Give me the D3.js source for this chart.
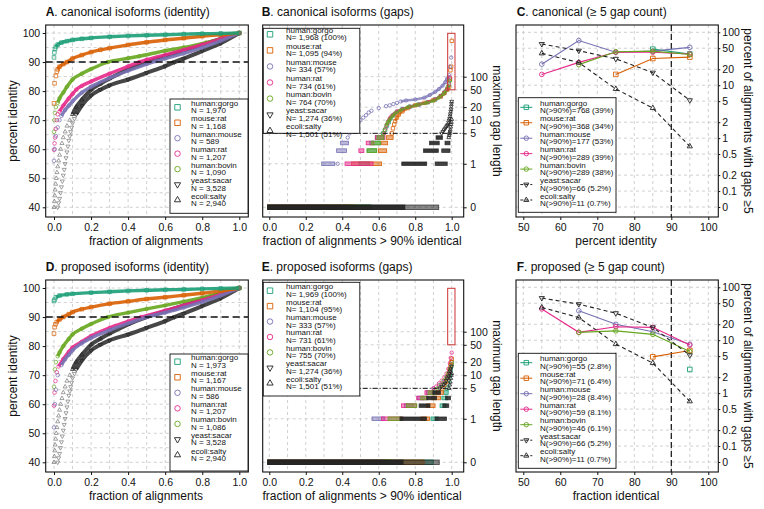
<!DOCTYPE html>
<html><head><meta charset="utf-8">
<script src="https://cdn.jsdelivr.net/npm/d3@7"></script>
<style>
body{margin:0;background:#fff}
svg{display:block}
text{font-family:"Liberation Sans",Arial,Helvetica,sans-serif;fill:#111}
</style>
</head><body><svg id="c" width="764" height="509"></svg>
<script>
// ---------------- data ----------------
const species = ["human:gorgo","mouse:rat","human:mouse","human:rat","human:bovin","yeast:sacar","ecoli:salty"];
const colors  = ["#1b9e77","#d95f02","#7570b3","#e7298a","#66a61e","#222222","#222222"];
const shapes  = ["square","square","circle","circle","circle","tridown","triup"];

const titles = ["canonical isoforms (identity)","canonical isoforms (gaps)","canonical (\u2265 5 gap count)",
                "proposed isoforms (identity)","proposed isoforms (gaps)","proposed (\u2265 5 gap count)"];
const letters = ["A","B","C","D","E","F"];

const idTicksX = [0,0.2,0.4,0.6,0.8,1.0];
const idTicksY = [40,50,60,70,80,90,100];
const gapTicks = [0,1,5,10,20,50,100];
const cntTicksX = [50,60,70,80,90,100];
const cntTicksY = [0,0.1,0.2,0.5,1,2,5,10,20,50,100];

const legendA = ["N = 1,970","N = 1,168","N = 589","N = 1,207","N = 1,090","N = 3,528","N = 2,940"];
const legendD = ["N = 1,973","N = 1,167","N = 586","N = 1,207","N = 1,086","N = 3,528","N = 2,940"];
const legendB = ["N= 1,968 (100%)","N= 1,095 (94%)","N= 334 (57%)","N= 734 (61%)","N= 764 (70%)","N= 1,274 (36%)","N= 1,501 (51%)"];
const legendE = ["N= 1,969 (100%)","N= 1,104 (95%)","N= 333 (57%)","N= 731 (61%)","N= 755 (70%)","N= 1,274 (36%)","N= 1,501 (51%)"];
const legendC = ["N(>90%)=768 (39%)","N(>90%)=368 (34%)","N(>90%)=177 (53%)","N(>90%)=289 (39%)","N(>90%)=289 (38%)","N(>90%)=66 (5.2%)","N(>90%)=11 (0.7%)"];
const legendF = ["N(>90%)=55 (2.8%)","N(>90%)=71 (6.4%)","N(>90%)=28 (8.4%)","N(>90%)=59 (8.1%)","N(>90%)=46 (6.1%)","N(>90%)=66 (5.2%)","N(>90%)=11 (0.7%)"];

// identity panels: [fraction of alignments, percent identity]
const idCanonSparse = [
  [[0.0,91.6],[0.002,93.3],[0.005,94.5]],
  [[0.0,75.8],[0.003,82.7],[0.01,85.2],[0.015,86.7]],
  [[0.0,56],[0.004,60],[0.01,64.5],[0.02,67.5],[0.03,70]],
  [[0.0,59.8],[0.003,62],[0.006,64],[0.01,67],[0.015,70],[0.02,72]],
  [[0.0,66],[0.002,70],[0.005,72.5],[0.01,74.5]],
  [[0.02,40],[0.025,41.5],[0.03,43],[0.035,45],[0.04,47],[0.045,49],[0.05,51],[0.055,53],[0.06,55],[0.065,57],[0.07,59],[0.075,61],[0.08,63],[0.085,64.5],[0.09,66],[0.095,67.5],[0.1,69],[0.11,70.5]],
  [[0.0,40],[0.002,42],[0.004,44],[0.006,46],[0.009,48],[0.012,50],[0.016,52],[0.02,54],[0.025,56],[0.03,58],[0.036,60],[0.043,62],[0.05,64],[0.06,66],[0.07,68],[0.085,70]]
];
const idCanonDense = [
  [[0.01,95.2],[0.02,96],[0.04,96.7],[0.07,97.2],[0.1,97.6],[0.15,98],[0.2,98.3],[0.3,98.7],[0.4,99],[0.5,99.2],[0.6,99.4],[0.7,99.6],[0.8,99.75],[0.9,99.85],[1.0,100]],
  [[0.02,87.5],[0.03,88.4],[0.05,89.3],[0.07,90],[0.1,91.2],[0.15,92.4],[0.2,93.4],[0.25,94.2],[0.3,94.8],[0.4,95.9],[0.5,96.8],[0.6,97.6],[0.7,98.2],[0.8,98.9],[0.9,99.4],[1.0,100]],
  [[0.04,71.5],[0.06,73.5],[0.08,75],[0.1,76.5],[0.15,79.5],[0.2,81.5],[0.3,84.5],[0.4,87],[0.5,89.3],[0.55,90.3],[0.6,91.2],[0.7,93],[0.8,95],[0.9,97.3],[1.0,100]],
  [[0.03,73],[0.05,75],[0.08,77.5],[0.1,79],[0.12,80.5],[0.15,81.8],[0.2,83.3],[0.3,86],[0.4,88.5],[0.46,90],[0.5,90.8],[0.6,92.5],[0.7,94.2],[0.8,96],[0.9,98],[1.0,100]],
  [[0.02,76],[0.03,77.5],[0.05,79.5],[0.07,81.5],[0.1,84],[0.15,86],[0.2,87.6],[0.29,90],[0.4,91.3],[0.46,92],[0.6,93.9],[0.7,95],[0.82,96.7],[0.9,98],[1.0,100]],
  [[0.12,72],[0.15,75],[0.2,78.5],[0.25,80.5],[0.3,82],[0.4,84],[0.5,86.3],[0.6,88.6],[0.65,90],[0.7,91.2],[0.8,93.8],[0.9,96.5],[1.0,100]],
  [[0.1,72],[0.12,74.5],[0.15,77],[0.2,80.5],[0.25,82.5],[0.3,84.3],[0.4,87.5],[0.5,90],[0.6,92],[0.7,94],[0.8,96],[0.9,98],[1.0,100]]
];
const idPropSparse = [
  [[0.0,95.5],[0.003,96]],
  [[0.0,84.3],[0.003,86.5],[0.008,87.5]],
  [[0.0,52],[0.005,60],[0.01,65],[0.02,70]],
  [[0.0,59.5],[0.003,64],[0.008,68],[0.015,71]],
  [[0.0,66],[0.005,72],[0.01,74.5]],
  [[0.02,40],[0.025,41.5],[0.03,43],[0.035,45],[0.04,47],[0.045,49],[0.05,51],[0.055,53],[0.06,55],[0.065,57],[0.07,59],[0.075,61],[0.08,63],[0.085,64.5],[0.09,66],[0.095,67.5],[0.1,69],[0.11,70.5]],
  [[0.0,40],[0.002,42],[0.004,44],[0.006,46],[0.009,48],[0.012,50],[0.016,52],[0.02,54],[0.025,56],[0.03,58],[0.036,60],[0.043,62],[0.05,64],[0.06,66],[0.07,68],[0.085,70]]
];
const idPropDense = [
  [[0.01,96.8],[0.03,97.4],[0.07,97.8],[0.1,98],[0.2,98.4],[0.3,98.7],[0.4,99],[0.5,99.2],[0.6,99.4],[0.7,99.5],[0.8,99.7],[0.9,99.85],[1.0,100]],
  [[0.015,88.3],[0.03,89.2],[0.05,90],[0.08,91],[0.1,91.7],[0.15,92.7],[0.2,93.4],[0.3,94.6],[0.4,95.4],[0.5,96.2],[0.6,96.8],[0.7,97.5],[0.8,98.2],[0.9,99],[1.0,100]],
  [[0.04,73.5],[0.06,75.5],[0.08,77],[0.1,78.5],[0.15,81],[0.2,82.8],[0.3,85.5],[0.4,87.8],[0.5,90],[0.6,91.5],[0.7,93.3],[0.8,95.2],[0.9,97.4],[1.0,100]],
  [[0.025,73],[0.05,75.5],[0.08,78],[0.1,79.5],[0.15,81.5],[0.2,83.5],[0.3,86.3],[0.4,88.5],[0.47,90],[0.6,92.2],[0.7,94],[0.8,95.8],[0.9,97.8],[1.0,100]],
  [[0.02,76.5],[0.03,77.8],[0.05,80],[0.08,82.5],[0.1,84],[0.15,86],[0.2,87.6],[0.29,90],[0.4,91.5],[0.5,92.8],[0.6,94],[0.7,95.3],[0.8,96.7],[0.9,98.2],[1.0,100]],
  [[0.12,72],[0.15,75],[0.2,78.5],[0.25,80.5],[0.3,82],[0.4,84],[0.5,86.3],[0.6,88.6],[0.65,90],[0.7,91.2],[0.8,93.8],[0.9,96.5],[1.0,100]],
  [[0.1,72],[0.12,74.5],[0.15,77],[0.2,80.5],[0.25,82.5],[0.3,84.3],[0.4,87.5],[0.5,90],[0.6,92],[0.7,94],[0.8,96],[0.9,98],[1.0,100]]
];

// gap panels: runs = [gap length, from fraction, to fraction]; pts/band = [fraction, gap length]
const gapCanonRuns = [
  [[0,0,0.55],[1,0.5,0.54],[2,0.545,0.58],[3,0.56,0.6],[4,0.59,0.62]],
  [[0,0,0.46],[1,0.46,0.607],[2,0.607,0.635],[3,0.625,0.64],[4,0.65,0.67]],
  [[0,0,0.296],[1,0.296,0.35],[2,0.378,0.415],[3,0.4,0.425]],
  [[0,0,0.424],[1,0.424,0.56],[2,0.5,0.51],[3,0.54,0.565],[4,0.59,0.625]],
  [[0,0,0.54],[2,0.545,0.58],[3,0.57,0.6],[4,0.6,0.62]],
  [[0,0,0.735],[1,0.735,0.854],[2,0.854,0.918],[3,0.887,0.923],[4,0.923,0.941]],
  [[0,0,0.92],[1,0.918,0.967],[2,0.954,0.982],[3,0.972,0.982]]
];
const gapCanonPts = [
  [[0.625,5],[0.635,6],[0.645,7.5],[0.99,85]],
  [[0.672,5],[0.678,6.5],[0.685,8],[0.99,90],[0.993,140],[0.997,170],[1.0,665]],
  [[0.375,1],[0.43,4],[0.44,5],[0.452,6],[0.47,7.5],[0.485,8.5],[0.5,10],[0.515,11.5],[0.53,13],[0.545,15],[0.56,16.5],[0.6,19],[0.64,21],[0.66,22],[0.68,23.5],[0.7,25],[0.99,170],[0.997,275]],
  [[0.63,5],[0.638,6.5],[0.645,8],[0.985,70],[0.992,95]],
  [[0.625,5],[0.632,6],[0.98,60],[0.99,80]],
  [[0.945,5],[0.952,5.5],[0.958,6],[0.964,6.5],[0.97,7],[0.975,7.5],[0.979,8],[0.983,9],[0.986,10],[0.989,11],[0.991,12.5],[0.993,14],[0.995,16],[0.997,18],[0.998,21],[0.999,24],[1.0,27]],
  [[0.984,4],[0.986,4.5],[0.988,5],[0.99,5.5],[0.992,6],[0.994,7],[0.996,8],[0.998,9],[1.0,10.5]]
];
const gapCanonBand = [
  [[0.655,9],[0.665,11],[0.68,13],[0.7,15.5],[0.73,18],[0.77,20.5],[0.82,23],[0.87,26],[0.91,30],[0.94,36],[0.96,43],[0.975,52],[0.985,65]],
  [[0.69,9.5],[0.7,11.5],[0.71,13.5],[0.73,16],[0.76,19],[0.8,22],[0.85,25],[0.9,29],[0.94,35],[0.96,42],[0.975,50],[0.985,58]],
  [[0.72,27],[0.75,28.5],[0.8,30],[0.85,33],[0.88,38],[0.91,45],[0.93,52],[0.95,62],[0.965,75],[0.975,90],[0.985,110]],
  [[0.652,9.5],[0.66,11],[0.67,12.5],[0.685,14],[0.7,16],[0.73,18],[0.77,20.5],[0.82,23],[0.87,26],[0.91,30],[0.94,36],[0.96,43],[0.975,52]],
  [[0.64,7.5],[0.65,9],[0.66,10.5],[0.675,12.5],[0.69,14.5],[0.72,17],[0.76,20],[0.81,22.5],[0.86,25],[0.9,28],[0.93,33],[0.955,40],[0.97,48]],
  [],[]
];
const gapPropRuns = [
  [[0,0,0.89],[1,0.895,0.917],[2,0.945,0.96],[3,0.955,0.967],[4,0.965,0.972]],
  [[0,0,0.84],[1,0.84,0.87],[2,0.87,0.9],[3,0.9,0.93],[4,0.925,0.945]],
  [[0,0,0.572],[1,0.572,0.624],[2,0.75,0.78],[3,0.82,0.84],[4,0.87,0.88]],
  [[0,0,0.624],[1,0.624,0.725],[2,0.734,0.798],[3,0.817,0.853],[4,0.862,0.89]],
  [[0,0,0.66],[1,0.66,0.72],[2,0.76,0.8],[3,0.84,0.86],[4,0.88,0.9]],
  [[0,0,0.725],[1,0.725,0.853],[2,0.83,0.872],[3,0.872,0.908],[4,0.905,0.93]],
  [[0,0,0.923],[1,0.917,0.963],[2,0.96,0.975],[3,0.975,0.985]]
];
const gapPropPts = [
  [[0.975,5],[0.98,6.5],[0.985,8],[0.99,10],[0.994,13],[0.997,16],[1.0,20]],
  [[0.95,5],[0.96,6],[0.968,7],[0.975,8.5],[0.982,10],[0.988,13],[0.993,17],[0.997,20],[1.0,24]],
  [[0.9,5],[0.93,6],[0.955,7],[0.975,9],[0.99,12]],
  [[0.9,5],[0.915,5.5],[0.93,6.5],[0.945,7.5],[0.96,9],[0.972,11],[0.982,14],[0.99,19],[0.995,25],[1.0,33]],
  [[0.92,5],[0.94,6],[0.955,7.5],[0.97,9],[0.98,11],[0.99,14],[1.0,18]],
  [[0.935,5],[0.945,5.5],[0.955,6],[0.963,6.5],[0.97,7.5],[0.976,8.5],[0.982,9.5],[0.987,11],[0.991,12.5],[0.995,14],[1.0,16]],
  [[0.985,5],[0.989,6],[0.992,7],[0.995,8.5],[0.998,10],[1.0,11]]
];
const gapPropBand = [[],[],[],[],[],[],[]];

// gap-count panels: [percent identity bin, percent of alignments with gaps >= 5]
const cntCanon = [
  [[85,48],[95,39]],
  [[75,16],[85,32],[95,34]],
  [[55,25],[65,70],[75,42],[85,44],[95,52]],
  [[55,16],[65,27],[75,42],[85,42],[95,39]],
  [[65,24.5],[75,43],[85,44],[95,38]],
  [[55,60],[65,45],[75,31.5],[85,17.3],[95,5.2]],
  [[55,40],[65,26.8],[75,8.5],[85,3.7],[95,0.7]]
];
const cntProp = [
  [[95,2.8]],
  [[85,4.85],[95,6.4]],
  [[65,36],[75,20],[85,14.5],[95,8.4]],
  [[55,39],[65,14.1],[75,18],[85,17.5],[95,8.1]],
  [[65,14.1],[75,15],[85,12.9],[95,6.1]],
  [[55,62.6],[65,48],[75,32.4],[85,17.5],[95,5.2]],
  [[55,41.6],[65,26.8],[75,8.45],[85,3.7],[95,0.7]]
];

// ---------------- drawing ----------------
const svg = d3.select("#c");
const ROWS = [25, 280];
const BOXH = 192;
const GRID = "#c4c4c4";

function symPath(shape, s){
  if (shape === "square") return d3.symbol(d3.symbolSquare, s*s)();
  if (shape === "circle") return d3.symbol(d3.symbolCircle, Math.PI*s*s/4)();
  return d3.symbol(d3.symbolTriangle, s*s*0.55)();
}
function drawMarks(g, pts, xs, ys, k, s, sw, col, op){
  const shape = shapes[k];
  g.selectAll(null).data(pts).join("path")
    .attr("d", symPath(shape, s))
    .attr("transform", d => `translate(${xs(d[0])},${ys(d[1])})` + (shape === "tridown" ? " rotate(180)" : ""))
    .attr("fill", "none").attr("stroke", col || colors[k]).attr("stroke-width", sw).attr("opacity", op == null ? 1 : op);
}
let clipId = 0;
function frame(x0, x1, top){
  const g = svg.append("g");
  const id = "clip" + (clipId++);
  svg.append("clipPath").attr("id", id).append("rect").attr("x", x0).attr("y", top).attr("width", x1 - x0).attr("height", BOXH);
  const inner = g.append("g").attr("clip-path", `url(#${id})`);
  return {g, inner};
}
function gridLines(g, xs, ys, xv, yv, x0, x1, top){
  g.selectAll(null).data(xv).join("line")
    .attr("x1", d => xs(d)).attr("x2", d => xs(d)).attr("y1", top).attr("y2", top + BOXH)
    .attr("stroke", GRID).attr("stroke-width", 0.8).attr("stroke-dasharray", "3,3");
  g.selectAll(null).data(yv).join("line")
    .attr("y1", d => ys(d)).attr("y2", d => ys(d)).attr("x1", x0).attr("x2", x1)
    .attr("stroke", GRID).attr("stroke-width", 0.8).attr("stroke-dasharray", "3,3");
}
function boxOutline(g, x0, x1, top){
  g.append("rect").attr("x", x0).attr("y", top).attr("width", x1 - x0).attr("height", BOXH)
    .attr("fill", "none").attr("stroke", "#111").attr("stroke-width", 1.1);
}
function styleAxis(a){
  a.select(".domain").remove();
  a.selectAll("text").attr("font-size", "10.5px").attr("fill", "#111").attr("font-family", "Liberation Sans, Arial, sans-serif");
  a.selectAll("line").attr("stroke", "#111");
}
function title(x, top, idx){
  const t = svg.append("text").attr("x", x).attr("y", top - 9).attr("font-size", "12px");
  t.append("tspan").attr("font-weight", "bold").text(letters[idx]);
  t.append("tspan").text(". " + titles[idx]);
}
function legend(x0, y0, w, h, symY, symX, textX, texts, withLine){
  const g = svg.append("g");
  g.append("rect").attr("x", x0).attr("y", y0).attr("width", w).attr("height", h)
    .attr("fill", "#fff").attr("stroke", "#111").attr("stroke-width", 0.9);
  species.forEach((sp, k) => {
    const yy = symY[k];
    if (withLine){
      g.append("line").attr("x1", symX - 6).attr("x2", symX + 6).attr("y1", yy).attr("y2", yy)
        .attr("stroke", colors[k]).attr("stroke-width", 1).attr("stroke-dasharray", k >= 5 ? "3,2" : null);
    }
    drawMarks(g, [[0,0]], () => symX, () => yy, k, withLine ? 4.5 : 5.5, 0.9);
    g.append("text").attr("x", textX).attr("y", yy - 1.5).attr("font-size", "8px").attr("fill", "#222").text(sp);
    g.append("text").attr("x", textX).attr("y", yy + 6).attr("font-size", "8px").attr("fill", "#222").text(texts[k]);
  });
}

// ----- identity panels (A, D)
function identityPanel(row, idx, sparse, dense, ntexts, legY){
  const top = ROWS[row];
  const x0 = 45.7, x1 = 248.3;
  const xs = d3.scaleLinear([0, 1], [54, 239.3]);
  const ys = d3.scaleLinear([40, 100], [top + 182.3, top + 8]);
  const {g, inner} = frame(x0, x1, top);
  gridLines(inner, xs, ys, d3.range(0, 10.01, 1).map(d => d/10), d3.range(40, 100.1, 5), x0, x1, top);
  const line = d3.line().x(d => xs(d[0])).y(d => ys(d[1])).curve(d3.curveMonotoneX);
  const order = [5, 6, 4, 3, 2, 1, 0];
  order.forEach(k => {
    const black = k >= 5;
    inner.append("path").attr("d", line(dense[k])).attr("fill", "none")
      .attr("stroke", black ? "#333" : colors[k]).attr("stroke-width", black ? 4 : 3.4).attr("opacity", 0.9);
    drawMarks(inner, dense[k], xs, ys, k, 3.6, 0.7, black ? "#222" : colors[k]);
    drawMarks(inner, sparse[k], xs, ys, k, 3.6, 0.7, black ? "#777" : colors[k]);
  });
  inner.append("line").attr("x1", x0).attr("x2", x1).attr("y1", ys(90)).attr("y2", ys(90))
    .attr("stroke", "#111").attr("stroke-width", 1.4).attr("stroke-dasharray", "7,4");
  boxOutline(g, x0, x1, top);
  const ax = g.append("g").attr("transform", `translate(0,${top + BOXH})`)
    .call(d3.axisBottom(xs).tickValues(idTicksX).tickFormat(d3.format(".1f")).tickSize(3).tickPadding(3.5));
  styleAxis(ax);
  const ay = g.append("g").attr("transform", `translate(${x0},0)`)
    .call(d3.axisLeft(ys).tickValues(idTicksY).tickSize(3).tickPadding(2.5));
  styleAxis(ay);
  svg.append("text").attr("x", 146).attr("y", top + BOXH + 27.5).attr("text-anchor", "middle").attr("font-size", "12px").text("fraction of alignments");
  svg.append("text").attr("transform", `translate(17,${top + 96}) rotate(-90)`).attr("text-anchor", "middle").attr("font-size", "12px").text("percent identity");
  title(45.7, top, idx);
  legend(170, legY[0], 78, legY[1], legY[2], 177.5, 191, ntexts, false);
}

// ----- gap panels (B, E)
function gapPanel(row, idx, runs, pts, band, ntexts, legY){
  const top = ROWS[row];
  const x0 = 262.7, x1 = 463.7;
  const xs = d3.scaleLinear([0, 1], [269.3, 451.7]);
  const ysRaw = d3.scaleLog([0.1, 100], [top + 182.3, top + 51.7]);
  const ys = v => ysRaw(v === 0 ? 0.1 : v);
  const {g, inner} = frame(x0, x1, top);
  gridLines(inner, xs, ys, d3.range(0, 10.01, 1).map(d => d/10), gapTicks, x0, x1, top);
  const line = d3.line().x(d => xs(d[0])).y(d => ys(d[1]));
  species.forEach((sp, k) => {
    const col = colors[k];
    runs[k].forEach(r => {
      const hgt = r[0] === 0 ? 4.6 : 3.6;
      const fo = k === 5 ? 0.9 : (k === 6 ? (r[0] === 0 ? 0.55 : 0.85) : 0.5);
      inner.append("rect").attr("x", xs(r[1]) - 1.6).attr("y", ys(r[0]) - hgt/2)
        .attr("width", Math.max(0, xs(r[2]) - xs(r[1])) + 3.2).attr("height", hgt)
        .attr("fill", col).attr("fill-opacity", fo)
        .attr("stroke", col).attr("stroke-width", 0.8).attr("stroke-opacity", k >= 5 ? 0.8 : 1);
    });
    if (band[k].length){
      inner.append("path").attr("d", line(band[k])).attr("fill", "none").attr("stroke", col)
        .attr("stroke-width", 2.6).attr("opacity", 0.75);
      drawMarks(inner, band[k], xs, ys, k, 3.4, 0.7);
    }
    drawMarks(inner, pts[k], xs, ys, k, 3.4, 0.8);
  });
  inner.append("line").attr("x1", x0).attr("x2", x1).attr("y1", ys(5)).attr("y2", ys(5))
    .attr("stroke", "#111").attr("stroke-width", 1).attr("stroke-dasharray", "5,2,1,2");
  inner.append("rect").attr("x", xs(0.978)).attr("y", top + 8.3).attr("width", xs(1.018) - xs(0.978)).attr("height", ys(50) - top - 8.3)
    .attr("fill", "none").attr("stroke", "#cc3333").attr("stroke-width", 1);
  boxOutline(g, x0, x1, top);
  const ax = g.append("g").attr("transform", `translate(0,${top + BOXH})`)
    .call(d3.axisBottom(xs).tickValues(idTicksX).tickFormat(d3.format(".1f")).tickSize(3).tickPadding(3.5));
  styleAxis(ax);
  const ay = g.append("g").attr("transform", `translate(${x1},0)`)
    .call(d3.axisRight(ysRaw).tickValues(gapTicks.map(v => v === 0 ? 0.1 : v)).tickFormat(v => v === 0.1 ? "0" : String(v)).tickSize(3).tickPadding(3.5));
  styleAxis(ay);
  svg.append("text").attr("x", 362).attr("y", top + BOXH + 27.5).attr("text-anchor", "middle").attr("font-size", "12px").text("fraction of alignments > 90% identical");
  svg.append("text").attr("transform", `translate(493,${top + 96}) rotate(90)`).attr("text-anchor", "middle").attr("font-size", "12px").text("maximum gap length");
  title(261.7, top, idx);
  legend(263.3, legY[0], 96.5, legY[1], legY[2], 270, 286, ntexts, false);
}

// ----- gap-count panels (C, F)
function countPanel(row, idx, data, ntexts, legY, xlabel){
  const top = ROWS[row];
  const x0 = 516, x1 = 718.3;
  const xs = d3.scaleLinear([50, 100], [523.3, 708.3]);
  const ysRaw = d3.scaleLog([0.05, 100], [top + 182, top + 7.3]);
  const ys = v => ysRaw(v === 0 ? 0.05 : v);
  const {g, inner} = frame(x0, x1, top);
  gridLines(inner, xs, ys, d3.range(50, 100.1, 5), cntTicksY, x0, x1, top);
  inner.append("line").attr("x1", xs(90)).attr("x2", xs(90)).attr("y1", top).attr("y2", top + BOXH)
    .attr("stroke", "#111").attr("stroke-width", 1.2).attr("stroke-dasharray", "6,3");
  const line = d3.line().x(d => xs(d[0])).y(d => ys(d[1]));
  species.forEach((sp, k) => {
    const col = colors[k];
    if (data[k].length > 1){
      inner.append("path").attr("d", line(data[k])).attr("fill", "none").attr("stroke", col)
        .attr("stroke-width", 1.1).attr("stroke-dasharray", k >= 5 ? "4,3" : null);
    }
    drawMarks(inner, data[k], xs, ys, k, 4.6, 0.9);
  });
  boxOutline(g, x0, x1, top);
  const ax = g.append("g").attr("transform", `translate(0,${top + BOXH})`)
    .call(d3.axisBottom(xs).tickValues(cntTicksX).tickSize(3).tickPadding(3.5));
  styleAxis(ax);
  const ay = g.append("g").attr("transform", `translate(${x1},0)`)
    .call(d3.axisRight(ysRaw).tickValues(cntTicksY.map(v => v === 0 ? 0.05 : v)).tickFormat(v => v === 0.05 ? "0" : String(v)).tickSize(2).tickPadding(2));
  styleAxis(ay);
  svg.append("text").attr("x", 616).attr("y", top + BOXH + 27.5).attr("text-anchor", "middle").attr("font-size", "12px").text(xlabel);
  svg.append("text").attr("transform", `translate(744,${top + 96}) rotate(90)`).attr("text-anchor", "middle").attr("font-size", "12px").text("percent of alignments with gaps \u22655");
  title(516.7, top, idx);
  legend(518.3, legY[0], 97.7, legY[1], legY[2], 526.3, 540, ntexts, true);
}

const seq = (a, step) => d3.range(7).map(i => a + i * step);
identityPanel(0, 0, idCanonSparse, idCanonDense, legendA, [99, 114.3, seq(107.3, 15.45)]);
gapPanel(0, 1, gapCanonRuns, gapCanonPts, gapCanonBand, legendB, [28.3, 105, seq(34.3, 16.07)]);
countPanel(0, 2, cntCanon, legendC, [97.7, 114.6, seq(107.3, 15.45)], "percent identity");
identityPanel(1, 3, idPropSparse, idPropDense, legendD, [354, 117, seq(361.7, 15.55)]);
gapPanel(1, 4, gapPropRuns, gapPropPts, gapPropBand, legendE, [282.3, 113.7, seq(290.7, 15.43)]);
countPanel(1, 5, cntProp, legendF, [353.3, 115, seq(362.7, 15.5)], "fraction identical");
</script></body></html>
